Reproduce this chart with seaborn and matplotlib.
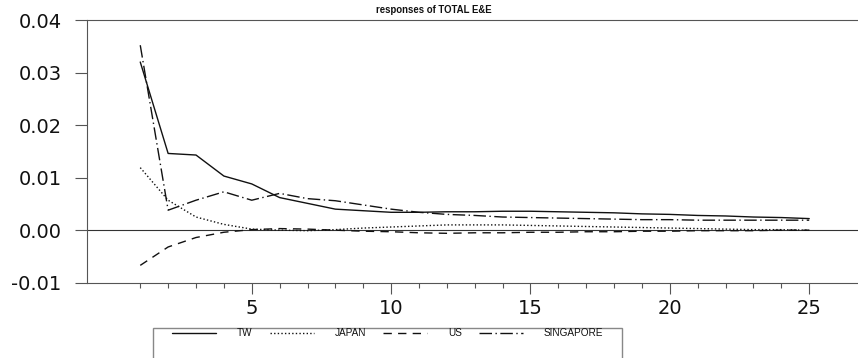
import numpy as np
import pandas as pd
import matplotlib
matplotlib.use("Agg")
import matplotlib.pyplot as plt
import matplotlib.patches as mpatches
from matplotlib.ticker import MultipleLocator, FormatStrFormatter
import seaborn as sns

# ---- data ----
periods = list(range(1, 26))
tw = [0.0320, 0.0146, 0.0143, 0.0103, 0.0088, 0.0062, 0.0051, 0.0040, 0.0037, 0.0034,
      0.0034, 0.0035, 0.0035, 0.0036, 0.0036, 0.0035, 0.0034, 0.0033, 0.0031, 0.0030,
      0.0028, 0.0027, 0.0025, 0.0024, 0.0022]
japan = [0.0119, 0.0057, 0.0025, 0.0011, 0.0002, 0.0000, -0.0001, 0.0001, 0.0004, 0.0006,
         0.0008, 0.0010, 0.0010, 0.0010, 0.0009, 0.0008, 0.0007, 0.0006, 0.0005, 0.0004,
         0.0003, 0.0002, 0.0001, 0.0001, 0.0000]
us = [-0.0067, -0.0032, -0.0014, -0.0004, 0.0001, 0.0003, 0.0002, 0.0000, -0.0002, -0.0003,
      -0.0005, -0.0006, -0.0005, -0.0005, -0.0004, -0.0004, -0.0003, -0.0003, -0.0002, -0.0002,
      -0.0001, -0.0001, -0.0001, 0.0000, 0.0000]
singapore = [0.0352, 0.0038, 0.0057, 0.0073, 0.0057, 0.0070, 0.0060, 0.0056, 0.0048, 0.0040,
             0.0034, 0.0030, 0.0028, 0.0025, 0.0024, 0.0023, 0.0022, 0.0021, 0.0020, 0.0020,
             0.0019, 0.0019, 0.0019, 0.0019, 0.0019]
series_names = ["TW", "JAPAN", "US", "SINGAPORE"]
title = "responses of TOTAL E&E"

df = pd.concat([
    pd.DataFrame({"period": periods, "value": vals, "series": name})
    for name, vals in zip(series_names, [tw, japan, us, singapore])
], ignore_index=True)

sns.set_theme(style="white")
plt.rcParams["font.family"] = ["Liberation Sans", "DejaVu Sans"]
plt.rcParams["axes.unicode_minus"] = False

W, H = 858, 358
fig = plt.figure(figsize=(W / 100, H / 100), dpi=100)
left_px, top_px, bottom_px = 87.3, 20.0, 282.7
ax = fig.add_axes([left_px / W, 1 - bottom_px / H, 1 - left_px / W, (bottom_px - top_px) / H])

dashes = {"TW": "", "JAPAN": (1, 1.6), "US": (6, 4.5), "SINGAPORE": (9, 2.5, 1, 2.5)}
palette = {n: "#111111" for n in series_names}
sns.lineplot(data=df, x="period", y="value", hue="series", style="series",
             hue_order=series_names, style_order=series_names,
             palette=palette, dashes=dashes, linewidth=1.0, ax=ax, legend=True)

ax.axhline(0, color="#333333", linewidth=0.8, zorder=1)

ax.set_xlim(-0.90, 26.75)
ax.set_ylim(-0.01, 0.04)
ax.set_xlabel("")
ax.set_ylabel("")

spine_c = "#555555"
for s in ["left", "top", "bottom"]:
    ax.spines[s].set_color(spine_c)
    ax.spines[s].set_linewidth(0.8)
ax.spines["right"].set_visible(False)

ax.yaxis.set_major_locator(MultipleLocator(0.01))
ax.yaxis.set_major_formatter(FormatStrFormatter("%.2f"))
ax.set_xticks([5, 10, 15, 20, 25])
ax.set_xticks(periods, minor=True)

ax.tick_params(axis="y", which="major", direction="out", length=8.6, width=0.8,
               color=spine_c, labelsize=14, pad=10, left=True)
ax.tick_params(axis="x", which="major", direction="out", length=8.0, width=0.8,
               color=spine_c, labelsize=14, pad=3.5, bottom=True)
ax.tick_params(axis="x", which="minor", direction="out", length=3.8, width=0.8,
               color=spine_c, bottom=True)
for lab in ax.get_xticklabels() + ax.get_yticklabels():
    lab.set_color("#111111")
    lab.set_family(["DejaVu Sans"])

# title
fig.text(434 / W, 1 - 10 / H, title, ha="center", va="center",
         fontsize=6.9, fontweight="bold", color="#111111")

# legend
handles, labels = ax.get_legend_handles_labels()
ax.get_legend().remove()
leg = fig.legend(handles, labels, loc="center left",
                 bbox_to_anchor=(172 / W, 1 - 333 / H), ncol=4, frameon=False,
                 fontsize=7.2, handlelength=4.4, handletextpad=2.1,
                 columnspacing=1.7, borderpad=0, borderaxespad=0)
for t in leg.get_texts():
    t.set_color("#111111")

# legend box (runs off the bottom edge like the reference)
rect = mpatches.Rectangle((153 / W, -0.05), (622 - 153) / W, 0.05 + 1 - 328 / H,
                          transform=fig.transFigure, fill=False,
                          edgecolor="#888888", linewidth=1.0)
fig.patches.append(rect)

fig.savefig("out.png", dpi=100)
